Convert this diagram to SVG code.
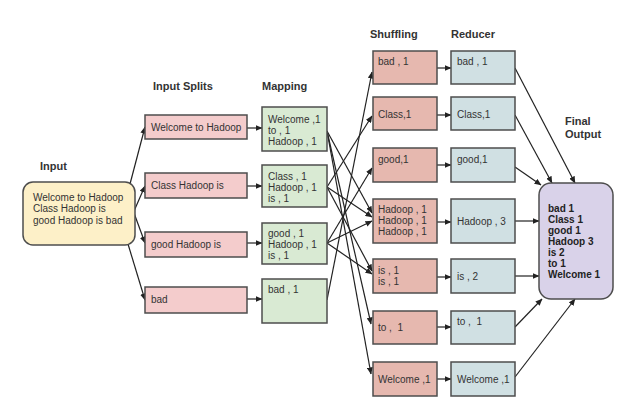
<svg xmlns="http://www.w3.org/2000/svg" width="635" height="412" viewBox="0 0 635 412">
  <defs>
    <marker id="arrow" markerWidth="7" markerHeight="6" refX="6.5" refY="3" orient="auto" markerUnits="userSpaceOnUse">
      <path d="M0,0 L7,3 L0,6 Z" fill="#222"/>
    </marker>
    <style>
      .box { stroke: #4d4d4d; stroke-width: 1.5; }
      .input { fill: #fdf0c8; }
      .split { fill: #f4cccc; }
      .map { fill: #d9ead3; }
      .shuf { fill: #e6b8af; }
      .red { fill: #d0e0e3; }
      .final { fill: #d9d2e9; }
      .t { font-family: "Liberation Sans", Arial, sans-serif; font-size: 10px; fill: #333; }
      .tb { font-family: "Liberation Sans", Arial, sans-serif; font-size: 10px; font-weight: bold; fill: #222; }
      .h { font-family: "Liberation Sans", Arial, sans-serif; font-size: 11px; font-weight: bold; fill: #333; }
      .c { fill: none; stroke: #222; stroke-width: 1.2; marker-end: url(#arrow); }
    </style>
  </defs>
  <rect width="635" height="412" fill="#ffffff"/>

  <!-- column headings -->
  <g id="headings">
    <text class="h" x="40" y="170">Input</text>
    <text class="h" x="153" y="90">Input Splits</text>
    <text class="h" x="262" y="90">Mapping</text>
    <text class="h" x="370" y="38">Shuffling</text>
    <text class="h" x="451" y="38">Reducer</text>
    <text class="h" x="565" y="125">Final</text>
    <text class="h" x="565" y="138">Output</text>
  </g>

  <!-- connectors -->
  <g id="connectors">
    <!-- input to splits -->
    <line class="c" x1="130" y1="184" x2="145" y2="127"/>
    <line class="c" x1="134" y1="211" x2="145" y2="186"/>
    <line class="c" x1="134" y1="213" x2="145" y2="243"/>
    <line class="c" x1="128" y1="244" x2="145" y2="300"/>
    <!-- splits to mapping -->
    <line class="c" x1="247" y1="128" x2="262" y2="128"/>
    <line class="c" x1="247" y1="186" x2="262" y2="186"/>
    <line class="c" x1="247" y1="243" x2="262" y2="243"/>
    <line class="c" x1="247" y1="299" x2="262" y2="299"/>
    <!-- mapping to shuffling -->
    <line class="c" x1="327" y1="131" x2="372" y2="213"/>
    <line class="c" x1="327" y1="131" x2="371" y2="324"/>
    <line class="c" x1="327" y1="131" x2="371" y2="374"/>
    <line class="c" x1="327" y1="187" x2="372" y2="116"/>
    <line class="c" x1="327" y1="187" x2="372" y2="217"/>
    <line class="c" x1="327" y1="187" x2="372" y2="271"/>
    <line class="c" x1="327" y1="243" x2="372" y2="168"/>
    <line class="c" x1="327" y1="243" x2="372" y2="221"/>
    <line class="c" x1="327" y1="243" x2="372" y2="274"/>
    <line class="c" x1="327" y1="300" x2="372" y2="72"/>
    <!-- shuffling to reducer -->
    <line class="c" x1="437" y1="68" x2="451" y2="68"/>
    <line class="c" x1="437" y1="115" x2="451" y2="115"/>
    <line class="c" x1="437" y1="165" x2="451" y2="165"/>
    <line class="c" x1="437" y1="222" x2="451" y2="222"/>
    <line class="c" x1="437" y1="277" x2="451" y2="277"/>
    <line class="c" x1="437" y1="327" x2="451" y2="327"/>
    <line class="c" x1="437" y1="379" x2="451" y2="379"/>
    <!-- reducer to final output -->
    <line class="c" x1="515" y1="68" x2="575" y2="183"/>
    <line class="c" x1="515" y1="115" x2="552" y2="183"/>
    <line class="c" x1="515" y1="167" x2="541" y2="185"/>
    <line class="c" x1="515" y1="221" x2="539" y2="221"/>
    <line class="c" x1="515" y1="276" x2="539" y2="276"/>
    <line class="c" x1="515" y1="327" x2="542" y2="299"/>
    <line class="c" x1="515" y1="377" x2="575" y2="299"/>
  </g>

  <!-- input -->
  <g id="input">
    <rect class="box input" x="23" y="182" width="112" height="63" rx="10"/>
    <text class="t" x="33" y="201">Welcome to Hadoop</text>
    <text class="t" x="33" y="212">Class Hadoop is</text>
    <text class="t" x="33" y="224">good Hadoop is bad</text>
  </g>

  <!-- input splits -->
  <g id="split-1">
    <rect class="box split" x="145" y="115" width="102" height="24"/>
    <text class="t" x="151" y="131">Welcome to Hadoop</text>
  </g>
  <g id="split-2">
    <rect class="box split" x="145" y="173" width="102" height="25"/>
    <text class="t" x="151" y="189">Class Hadoop is</text>
  </g>
  <g id="split-3">
    <rect class="box split" x="145" y="232" width="102" height="25"/>
    <text class="t" x="151" y="248">good Hadoop is</text>
  </g>
  <g id="split-4">
    <rect class="box split" x="145" y="287" width="102" height="26"/>
    <text class="t" x="151" y="303">bad</text>
  </g>

  <!-- mapping -->
  <g id="map-1">
    <rect class="box map" x="262" y="107" width="65" height="44"/>
    <text class="t" x="268" y="123">Welcome ,1</text>
    <text class="t" x="268" y="134">to , 1</text>
    <text class="t" x="268" y="145">Hadoop , 1</text>
  </g>
  <g id="map-2">
    <rect class="box map" x="262" y="165" width="65" height="42"/>
    <text class="t" x="268" y="180">Class , 1</text>
    <text class="t" x="268" y="191">Hadoop , 1</text>
    <text class="t" x="268" y="202">is , 1</text>
  </g>
  <g id="map-3">
    <rect class="box map" x="262" y="223" width="65" height="41"/>
    <text class="t" x="268" y="237">good , 1</text>
    <text class="t" x="268" y="248">Hadoop , 1</text>
    <text class="t" x="268" y="259">is , 1</text>
  </g>
  <g id="map-4">
    <rect class="box map" x="262" y="279" width="65" height="44"/>
    <text class="t" x="268" y="293">bad , 1</text>
  </g>

  <!-- shuffling -->
  <g id="shuffle-bad">
    <rect class="box shuf" x="373" y="51" width="64" height="33"/>
    <text class="t" x="378" y="65">bad , 1</text>
  </g>
  <g id="shuffle-class">
    <rect class="box shuf" x="373" y="97" width="64" height="33"/>
    <text class="t" x="378" y="118">Class,1</text>
  </g>
  <g id="shuffle-good">
    <rect class="box shuf" x="373" y="148" width="64" height="34"/>
    <text class="t" x="378" y="163">good,1</text>
  </g>
  <g id="shuffle-hadoop">
    <rect class="box shuf" x="373" y="199" width="64" height="44"/>
    <text class="t" x="378" y="213">Hadoop , 1</text>
    <text class="t" x="378" y="224">Hadoop , 1</text>
    <text class="t" x="378" y="235">Hadoop , 1</text>
  </g>
  <g id="shuffle-is">
    <rect class="box shuf" x="373" y="259" width="64" height="34"/>
    <text class="t" x="378" y="274">is , 1</text>
    <text class="t" x="378" y="285">is , 1</text>
  </g>
  <g id="shuffle-to">
    <rect class="box shuf" x="373" y="311" width="64" height="33"/>
    <text class="t" x="378" y="331">to , &#160;1</text>
  </g>
  <g id="shuffle-welcome">
    <rect class="box shuf" x="373" y="362" width="64" height="34"/>
    <text class="t" x="378" y="383">Welcome ,1</text>
  </g>

  <!-- reducer -->
  <g id="reduce-bad">
    <rect class="box red" x="451" y="51" width="64" height="33"/>
    <text class="t" x="457" y="65">bad , 1</text>
  </g>
  <g id="reduce-class">
    <rect class="box red" x="451" y="97" width="64" height="33"/>
    <text class="t" x="457" y="118">Class,1</text>
  </g>
  <g id="reduce-good">
    <rect class="box red" x="451" y="148" width="64" height="34"/>
    <text class="t" x="457" y="163">good,1</text>
  </g>
  <g id="reduce-hadoop">
    <rect class="box red" x="451" y="199" width="64" height="44"/>
    <text class="t" x="457" y="225">Hadoop , 3</text>
  </g>
  <g id="reduce-is">
    <rect class="box red" x="451" y="259" width="64" height="34"/>
    <text class="t" x="457" y="280">is , 2</text>
  </g>
  <g id="reduce-to">
    <rect class="box red" x="451" y="311" width="64" height="33"/>
    <text class="t" x="457" y="325">to , &#160;1</text>
  </g>
  <g id="reduce-welcome">
    <rect class="box red" x="451" y="362" width="64" height="34"/>
    <text class="t" x="457" y="383">Welcome ,1</text>
  </g>

  <!-- final output -->
  <g id="final-output">
    <rect class="box final" x="539" y="183" width="74" height="116" rx="12"/>
    <text class="tb" x="548" y="212">bad 1</text>
    <text class="tb" x="548" y="223">Class 1</text>
    <text class="tb" x="548" y="234">good 1</text>
    <text class="tb" x="548" y="245">Hadoop 3</text>
    <text class="tb" x="548" y="256">is 2</text>
    <text class="tb" x="548" y="267">to 1</text>
    <text class="tb" x="548" y="278">Welcome 1</text>
  </g>
</svg>
